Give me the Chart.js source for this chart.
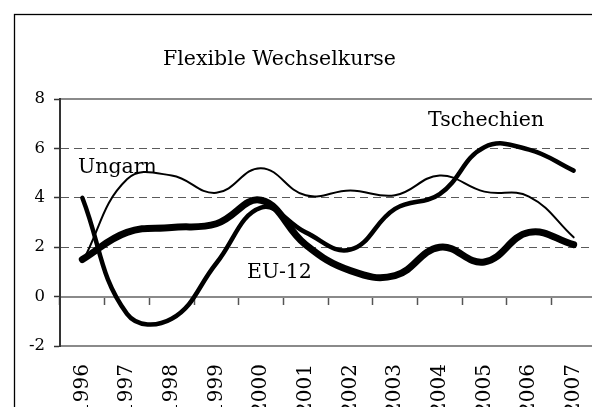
<!DOCTYPE html>
<html>
<head>
<meta charset="utf-8">
<script src="https://cdn.jsdelivr.net/npm/chart.js@4.4.0/dist/chart.umd.min.js"></script>
<style>
  html, body { margin: 0; padding: 0; background: #fff; overflow: hidden; }
  #wrap { position: absolute; left: 0; top: 0; width: 640px; height: 460px; }
</style>
</head>
<body>
<div id="wrap"><canvas id="wechselkursChart" width="640" height="460"></canvas></div>
<script>
// values
const years = ['1996', '1997', '1998', '1999', '2000', '2001', '2002', '2003', '2004', '2005', '2006', '2007'];
const eu12 = [1.5, 2.6, 2.8, 2.95, 3.9, 2.1, 1.05, 0.85, 2.0, 1.4, 2.6, 2.1];
const tschechien = [4.0, -0.7, -0.9, 1.35, 3.6, 2.6, 1.9, 3.55, 4.15, 6.05, 5.95, 5.1];
const ungarn = [1.4, 4.75, 4.9, 4.2, 5.2, 4.1, 4.3, 4.1, 4.9, 4.25, 4.05, 2.4];
const dashedAt = [2, 4, 6];
const title = 'Flexible Wechselkurse';

const serif = '"DejaVu Serif", serif';

/**
 * Frame round the figure plus title and series names written into the plot
 */
const textPlugin = {
    id: 'texts',
    beforeDraw(chart) {
        const ctx = chart.ctx;
        ctx.save();
        ctx.strokeStyle = '#000';
        ctx.lineWidth = 1.3;
        ctx.strokeRect(14.5, 14.5, chart.width, chart.height);
        ctx.restore();
    },
    afterDraw(chart) {
        const ctx = chart.ctx;
        const names = chart.data.datasets.map(d => d.label);
        ctx.save();
        ctx.fillStyle = '#000';
        ctx.font = '20.5px ' + serif;
        ctx.textAlign = 'left';
        ctx.textBaseline = 'alphabetic';
        ctx.fillText(title, 163, 65);
        ctx.fillText(names[0], 247, 278);
        ctx.fillText(names[1], 428, 126);
        ctx.fillText(names[2], 78, 173);
        ctx.restore();
    }
};

function createChart() {
    var ctx = document.getElementById('wechselkursChart').getContext('2d');
    return new Chart(ctx, {
        type: 'line',
        data: {
            labels: years,
            datasets: [
                { label: 'EU-12', data: eu12, borderWidth: 7 },
                { label: 'Tschechien', data: tschechien, borderWidth: 4.5 },
                { label: 'Ungarn', data: ungarn, borderWidth: 2 }
            ]
        },
        options: {
            responsive: false,
            animation: false,
            devicePixelRatio: 1,
            layout: { padding: { top: 99, right: 44, left: 0, bottom: 0 } },
            elements: {
                point: { radius: 0 },
                line: {
                    tension: 0.42,
                    borderColor: '#000',
                    borderCapStyle: 'round',
                    borderJoinStyle: 'round',
                    fill: false
                }
            },
            plugins: { legend: { display: false }, tooltip: { enabled: false } },
            scales: {
                x: {
                    type: 'category',
                    position: 'bottom',
                    offset: true,
                    grid: { display: false, drawTicks: false },
                    border: { display: true, color: '#8a8a8a', width: 2 },
                    ticks: {
                        minRotation: 90,
                        maxRotation: 90,
                        padding: 18,
                        color: '#000',
                        font: { family: serif, size: 20 }
                    },
                    afterFit(scale) { scale.height = 114; }
                },
                xZero: {
                    axis: 'x',
                    type: 'category',
                    position: { y: 0 },
                    offset: true,
                    grid: {
                        display: true, offset: true, drawOnChartArea: false,
                        drawTicks: true, tickLength: 7, tickColor: '#555', tickWidth: 1.5
                    },
                    border: { display: true, color: '#8a8a8a', width: 2 },
                    ticks: { display: false }
                },
                xTop: {
                    axis: 'x',
                    type: 'category',
                    position: { y: 8 },
                    offset: true,
                    grid: { display: false },
                    border: { display: true, color: '#8a8a8a', width: 2 },
                    ticks: { display: false }
                },
                y: {
                    min: -2,
                    max: 8,
                    ticks: {
                        stepSize: 2,
                        padding: 9,
                        color: '#000',
                        font: { family: serif, size: 16.5 }
                    },
                    grid: {
                        color: c => dashedAt.includes(c.tick.value) ? '#5a5a5a' : 'transparent',
                        lineWidth: 1,
                        tickLength: 6,
                        tickColor: '#333',
                        tickWidth: 1.5
                    },
                    border: { display: true, color: '#333', width: 2, dash: [8, 5] },
                    afterFit(scale) { scale.width = 60; }
                }
            }
        },
        plugins: [textPlugin]
    });
}

export_chart = createChart();
</script>
</body>
</html>
